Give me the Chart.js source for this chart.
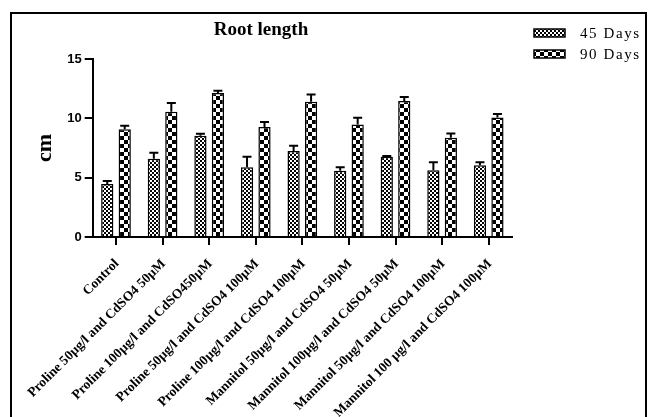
<!DOCTYPE html>
<html>
<head>
<meta charset="utf-8">
<script src="https://cdn.jsdelivr.net/npm/chart.js@4.4.1/dist/chart.umd.min.js"></script>
<style>
  html, body { margin: 0; padding: 0; background: #fff; overflow: hidden; }
  #wrap { width: 652px; height: 417px; }
</style>
</head>
<body>
<div id="wrap"><canvas id="chart" width="652" height="417"></canvas></div>
<script>
const categories = [
  'Control',
  'Proline 50µg/l and CdSO4 50µM',
  'Proline 100µg/l and CdSO450µM',
  'Proline 50µg/l and CdSO4 100µM',
  'Proline 100µg/l and CdSO4 100µM',
  'Mannitol 50µg/l and CdSO4 50µM',
  'Mannitol 100µg/l and CdSO4 50µM',
  'Mannitol 50µg/l and CdSO4 100µM',
  'Mannitol 100 µg/l and CdSO4 100µM'
];
const seriesNames = ['45 Days', '90 Days'];
const days45 = [4.47, 6.6, 8.53, 5.87, 7.25, 5.59, 6.77, 5.62, 6.04];
const days45Err = [0.25, 0.5, 0.17, 0.9, 0.45, 0.28, 0.05, 0.68, 0.25];
const days90 = [9.07, 10.56, 12.13, 9.27, 11.4, 9.49, 11.46, 8.37, 10.08];
const days90Err = [0.31, 0.74, 0.2, 0.43, 0.6, 0.56, 0.34, 0.36, 0.28];
const yTicks = [0, 5, 10, 15];

function checker(size) {
  const c = document.createElement('canvas');
  c.width = size * 2;
  c.height = size * 2;
  const g = c.getContext('2d');
  g.fillStyle = '#fff';
  g.fillRect(0, 0, c.width, c.height);
  g.fillStyle = '#000';
  g.fillRect(0, 0, size, size);
  g.fillRect(size, size, size, size);
  return document.getElementById('chart').getContext('2d').createPattern(c, 'repeat');
}

const fine = checker(2);
const coarse = checker(4);

// error bars (upper only), frame, title, y label and legend
const decorations = {
  id: 'decorations',
  afterDatasetsDraw(chart) {
    const ctx = chart.ctx;
    const y = chart.scales.y;
    ctx.save();
    ctx.strokeStyle = '#000';
    ctx.lineWidth = 2;
    chart.data.datasets.forEach((ds, i) => {
      chart.getDatasetMeta(i).data.forEach((bar, j) => {
        const top = y.getPixelForValue(ds.data[j] + ds.errors[j]);
        const base = y.getPixelForValue(ds.data[j]);
        ctx.beginPath();
        ctx.moveTo(bar.x, base);
        ctx.lineTo(bar.x, top);
        ctx.moveTo(bar.x - 4.5, top);
        ctx.lineTo(bar.x + 4.5, top);
        ctx.stroke();
      });
    });
    ctx.restore();
  },
  afterDraw(chart) {
    const ctx = chart.ctx;
    ctx.save();
    ctx.strokeStyle = '#000';
    ctx.lineWidth = 2;
    ctx.strokeRect(11, 13, 635, 500);

    ctx.fillStyle = '#000';
    ctx.font = 'bold 19px "Liberation Serif"';
    ctx.textAlign = 'center';
    ctx.textBaseline = 'alphabetic';
    ctx.fillText('Root length', 261, 35);

    ctx.save();
    ctx.translate(51, 148);
    ctx.rotate(-Math.PI / 2);
    ctx.font = 'bold 22px "Liberation Serif"';
    ctx.fillText('cm', 0, 0);
    ctx.restore();

    const fills = [fine, coarse];
    ctx.textAlign = 'left';
    ctx.font = '15px "Liberation Serif"';
    ctx.letterSpacing = '1.6px';
    seriesNames.forEach((name, i) => {
      const top = 29 + i * 21;
      ctx.fillStyle = fills[i];
      ctx.fillRect(534, top, 31, 8);
      ctx.lineWidth = 1.5;
      ctx.strokeRect(534, top, 31, 8);
      ctx.fillStyle = '#000';
      ctx.fillText(name, 580, top + 9);
    });
    ctx.restore();
  }
};

new Chart(document.getElementById('chart'), {
  type: 'bar',
  data: {
    labels: categories,
    datasets: [
      {
        label: seriesNames[0],
        data: days45,
        errors: days45Err,
        backgroundColor: fine,
        borderColor: '#000',
        borderWidth: 1.5
      },
      {
        label: seriesNames[1],
        data: days90,
        errors: days90Err,
        backgroundColor: coarse,
        borderColor: '#000',
        borderWidth: 1.5
      }
    ]
  },
  options: {
    responsive: false,
    animation: false,
    devicePixelRatio: 1,
    categoryPercentage: 0.75,
    barPercentage: 0.7,
    layout: { padding: { left: 20, top: 59, right: 140, bottom: 0 } },
    plugins: {
      legend: { display: false },
      title: { display: false },
      tooltip: { enabled: false }
    },
    scales: {
      x: {
        grid: { offset: false, drawOnChartArea: false, drawTicks: true, tickLength: 8, color: '#000', lineWidth: 2 },
        border: { color: '#000', width: 2 },
        ticks: {
          autoSkip: false,
          maxRotation: 45,
          minRotation: 45,
          color: '#000',
          padding: 11,
          labelOffset: 1,
          font: { family: '"Liberation Serif"', size: 13.5, weight: 'bold' }
        },
        afterFit(scale) { scale.height = 180; }
      },
      y: {
        min: 0,
        max: 15,
        afterBuildTicks(scale) { scale.ticks = yTicks.map((v) => ({ value: v })); },
        grid: { drawOnChartArea: false, drawTicks: true, tickLength: 8, color: '#000', lineWidth: 2 },
        border: { color: '#000', width: 2 },
        ticks: {
          color: '#000',
          padding: 3,
          font: { family: '"Liberation Sans"', size: 13, weight: 'bold' }
        },
        afterFit(scale) { scale.width = 72.7; }
      }
    }
  },
  plugins: [decorations]
});
</script>
</body>
</html>
